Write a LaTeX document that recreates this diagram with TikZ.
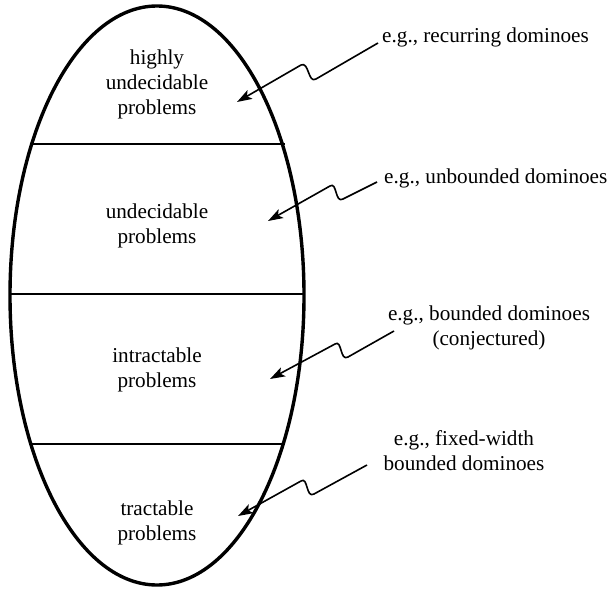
\documentclass[tikz,border=0pt]{standalone}
\usepackage{fontspec}
\setmainfont{Liberation Serif}
\usetikzlibrary{arrows.meta}
\begin{document}
\begin{tikzpicture}[x=1pt,y=-1pt,
  txt/.style={font=\fontsize{21.2}{25}\selectfont, align=center, inner sep=0pt},
  divider/.style={line width=1.4pt},
  shell/.style={line width=3.4pt},
  wig/.style={line width=1.6pt, line join=round, -{Stealth[length=15pt,width=10pt,inset=3.5pt]}}]
\useasboundingbox (0,0) rectangle (609,588);
\draw[shell] (157,295.5) ellipse [x radius=147, y radius=289.5];
\draw[divider] (29.5,144) -- (284.5,144);
\draw[divider] (10,294) -- (304,294);
\draw[divider] (29.5,444) -- (284.5,444);
\node[txt] (hu) at (157,84) {highly\\undecidable\\problems};
\node[txt] (ud) at (157,226) {undecidable\\problems};
\node[txt] (it) at (157,370) {intractable\\problems};
\node[txt] (tr) at (157,523) {tractable\\problems};
\node[txt, anchor=west] (l1) at (382,37) {e.g., recurring dominoes};
\node[txt, anchor=west] (l2) at (384,178) {e.g., unbounded dominoes};
\node[txt] (l3) at (489,328) {e.g., bounded dominoes\\(conjectured)};
\node[txt] (l4) at (464,451) {e.g., fixed-width\\bounded dominoes};
\coordinate (s1) at (378,43);  \coordinate (t1) at (237,102);
\coordinate (s2) at (377,182); \coordinate (t2) at (268,221);
\coordinate (s3) at (394,331); \coordinate (t3) at (270,379);
\coordinate (s4) at (367,465); \coordinate (t4) at (238,516);
\draw[wig] (s1) -- (316,79) .. controls (308,84) and (309,61) .. (301,65) -- (t1);
\draw[wig] (s2) -- (343,199) .. controls (335,204) and (337,181) .. (330,186) -- (t2);
\draw[wig] (s3) -- (348,357) .. controls (340,362) and (342,339) .. (335,344) -- (t3);
\draw[wig] (s4) -- (314,494) .. controls (306,499) and (308,476) .. (301,481) -- (t4);
\end{tikzpicture}
\end{document}
